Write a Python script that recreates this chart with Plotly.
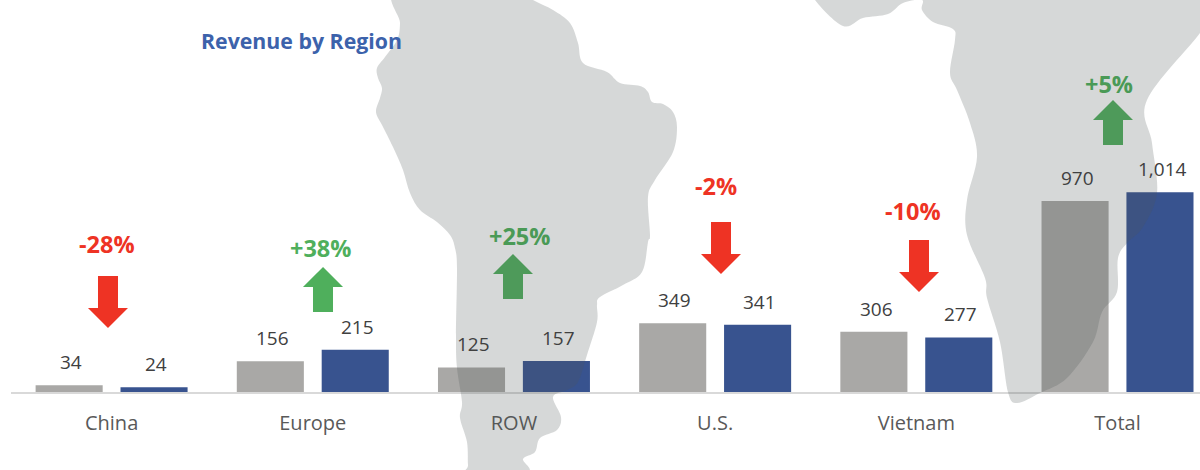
import plotly.graph_objects as go

# Revenue by region, prior period against current period
categories = ["China", "Europe", "ROW", "U.S.", "Vietnam", "Total"]
prior_values = [34, 156, 125, 349, 306, 970]
current_values = [24, 215, 157, 341, 277, 1014]
change_labels = ["-28%", "+38%", "+25%", "-2%", "-10%", "+5%"]

W, H = 1200, 470
M_L, M_R, M_T, M_B = 11, 0, 0, 78
GREY, BLUE = "#a9a8a6", "#38538f"
RED, GREEN = "#ee3324", "#4faf5c"
TEXT_DARK, TEXT_MID = "#404040", "#595959"
FONT = "Open Sans"
CHANGE_TEXT = ["#ee3324", "#4faf5c", "#4a9a56", "#ee3324", "#ee3324", "#4a9a56"]


def px(x, y):
    """Page pixels to paper coordinates."""
    return (x - M_L) / (W - M_L - M_R), 1 - (y - M_T) / (H - M_T - M_B)


def smooth_path(points):
    """Catmull-Rom outline expressed as an SVG cubic path in paper coordinates."""
    n = len(points)
    x0, y0 = px(*points[0])
    d = [f"M{x0:.5f},{y0:.5f}"]
    for i in range(n):
        p0, p1, p2, p3 = points[i - 1], points[i], points[(i + 1) % n], points[(i + 2) % n]
        c1 = (p1[0] + (p2[0] - p0[0]) / 6, p1[1] + (p2[1] - p0[1]) / 6)
        c2 = (p2[0] - (p3[0] - p1[0]) / 6, p2[1] - (p3[1] - p1[1]) / 6)
        a, b, c = px(*c1), px(*c2), px(*p2)
        d.append(f"C{a[0]:.5f},{a[1]:.5f} {b[0]:.5f},{b[1]:.5f} {c[0]:.5f},{c[1]:.5f}")
    return " ".join(d) + " Z"


def poly_path(points):
    coords = [px(*p) for p in points]
    return "M" + " L".join(f"{x:.5f},{y:.5f}" for x, y in coords) + " Z"


def block_arrow(cx, tip_y, up):
    """Block arrow with a 20 px head, 40 px wide, on a 20 px shaft; down arrows run longer."""
    s = 1 if up else -1
    length = 45 if up else 52
    return poly_path([
        (cx, tip_y),
        (cx + 20, tip_y + s * 20),
        (cx + 10, tip_y + s * 20),
        (cx + 10, tip_y + s * length),
        (cx - 10, tip_y + s * length),
        (cx - 10, tip_y + s * 20),
        (cx - 20, tip_y + s * 20),
    ])


# Map silhouette behind the chart, traced clockwise in page pixels
west_land = [
    (399, -12), (515, -12), (533, 0), (553, 10), (570, 23), (578, 43), (583, 63), (607, 72), (620, 83),
    (640, 86), (648, 92), (652, 102), (663, 104), (673, 112), (677, 127), (673, 152),
    (655, 180), (648, 197), (650, 235), (648, 242), (642, 272), (623, 285), (600, 297),
    (597, 305), (597, 322), (587, 355), (578, 382), (567, 390), (553, 397), (561, 417),
    (557, 430), (540, 438), (535, 452), (523, 459), (527, 472), (470, 472), (468, 465),
    (467, 442), (460, 418), (462, 402), (457, 368), (456, 335), (457, 268), (455, 248),
    (450, 235), (437, 222), (420, 210), (410, 193), (403, 170), (393, 147), (382, 125),
    (376, 112), (380, 98), (382, 88), (378, 78), (377, 68), (385, 57), (397, 40), (400, 23),
]
east_land = [
    (815, -12), (815, 0), (843, 26), (863, 18), (888, 14), (903, 3), (922, 0), (922, 10), (933, 22),
    (953, 29), (955, 40), (950, 73), (957, 90), (970, 123), (977, 157), (967, 200), (967, 235),
    (985, 278), (987, 298), (1000, 342), (1008, 392), (1017, 403), (1040, 393), (1067, 378),
    (1093, 342), (1102, 312), (1117, 292), (1118, 258), (1128, 242), (1143, 227), (1157, 193),
    (1152, 143), (1147, 100), (1200, 33), (1212, 10), (1212, -12),
]

# Arrow centre and tip per category, with the direction taken from the sign of the change
arrow_cx = [108, 323, 513, 721, 919, 1113]
arrow_tip = [328, 267, 254, 274, 292, 100]
label_cx = [107, 320, 519, 716, 913, 1109]
label_cy = [244, 248, 236, 186, 211, 84]

shapes = []
for cx, tip, text in zip(arrow_cx, arrow_tip, change_labels):
    up = text.startswith("+")
    shapes.append(dict(type="path", xref="paper", yref="paper", layer="above",
                       path=block_arrow(cx, tip, up), fillcolor=GREEN if up else RED,
                       line=dict(width=0)))
# The land sits over the marks as a translucent tint, so overlapped marks darken
for outline in (west_land, east_land):
    shapes.append(dict(type="path", xref="paper", yref="paper", layer="above",
                       path=smooth_path(outline), fillcolor="rgba(78,86,86,0.23)",
                       line=dict(width=0)))

fig = go.Figure()
fig.add_bar(x=categories, y=prior_values, marker=dict(color=GREY, line=dict(width=0)), showlegend=False)
fig.add_bar(x=categories, y=current_values, marker=dict(color=BLUE, line=dict(width=0)), showlegend=False)

annotations = []
for i, (a, b) in enumerate(zip(prior_values, current_values)):
    for value, offset in ((a, -0.2), (b, 0.222)):
        annotations.append(dict(x=i + offset, y=value, xref="x", yref="y", text=f"{value:,}",
                                showarrow=False, yanchor="middle", yshift=23,
                                font=dict(family=FONT, size=19, color=TEXT_DARK)))
for cx, cy, text, colour in zip(label_cx, label_cy, change_labels, CHANGE_TEXT):
    x, y = px(cx, cy)
    annotations.append(dict(x=x, y=y, xref="paper", yref="paper", text=f"<b>{text}</b>",
                            showarrow=False, xanchor="center", yanchor="middle",
                            font=dict(family=FONT, size=23.5, color=colour)))
tx, ty = px(301.5, 41)
annotations.append(dict(x=tx, y=ty, xref="paper", yref="paper", text="<b>Revenue by Region</b>",
                        showarrow=False, xanchor="center", yanchor="middle",
                        font=dict(family=FONT, size=21.3, color="#3c62ab")))

fig.update_layout(
    width=W, height=H, margin=dict(l=M_L, r=M_R, t=M_T, b=M_B),
    paper_bgcolor="white", plot_bgcolor="white",
    barmode="group", bargap=0.156, bargroupgap=0.21,
    shapes=shapes, annotations=annotations,
    xaxis=dict(type="category", range=[-0.5, 5.41], showgrid=False, zeroline=False,
               showline=True, linecolor="#d9d9d9", linewidth=2, ticks="",
               ticklabelstandoff=12, tickfont=dict(family=FONT, size=20, color=TEXT_MID)),
    yaxis=dict(range=[0, 1990], visible=False, showgrid=False, zeroline=False),
)

fig.write_html("out.html", config=dict(displayModeBar=False))
